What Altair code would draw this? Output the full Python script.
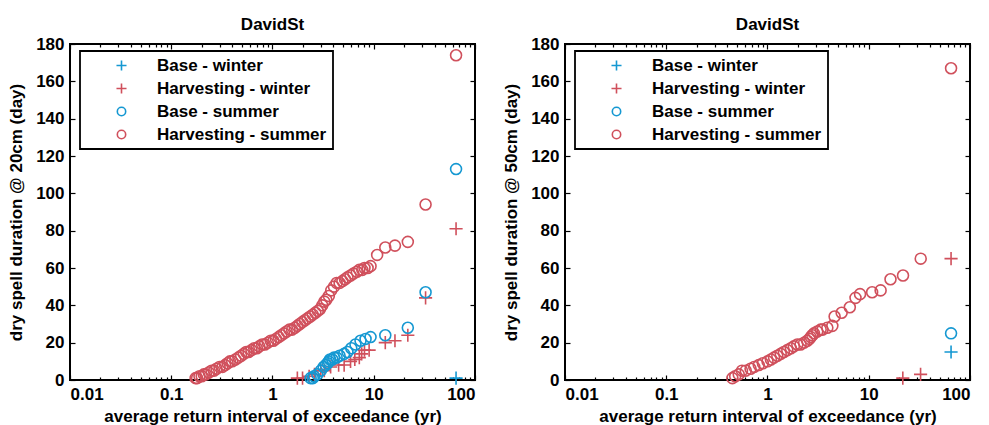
import altair as alt
import pandas as pd

FONT = "Liberation Sans"
BLUE = "#1598d2"
RED = "#d0505c"
PLUS = "M-1.2,0L1.2,0M0,-1.2L0,1.2"

SERIES = ["Base - winter", "Harvesting - winter", "Base - summer", "Harvesting - summer"]
TITLE = "DavidSt"
XTITLE = "average return interval of exceedance (yr)"
YTITLE_20 = "dry spell duration @ 20cm (day)"
YTITLE_50 = "dry spell duration @ 50cm (day)"

MAJOR_X = [0.01, 0.1, 1, 10, 100]
MINOR_X = [0.02, 0.03, 0.04, 0.05, 0.06, 0.07, 0.08, 0.09,
           0.2, 0.3, 0.4, 0.5, 0.6, 0.7, 0.8, 0.9,
           2, 3, 4, 5, 6, 7, 8, 9,
           20, 30, 40, 50, 60, 70, 80, 90]
Y_TICKS = [0, 20, 40, 60, 80, 100, 120, 140, 160, 180]

# ---------------- 20 cm panel ----------------
d20_bw_x = [65]
d20_bw_y = [1]

d20_hw_x = [1.76, 1.98, 2.3, 2.6, 3.0, 3.25, 3.75, 4.5, 5.1, 5.9, 6.5, 7.2, 7.6, 8.1, 9.0,
            13.0, 16.2, 21.7, 32.5, 65]
d20_hw_y = [1, 1, 2, 3, 5, 5, 7, 8, 8, 10, 11, 12, 14, 16, 16,
            20, 21, 24, 44, 81]

d20_bs_x = [2.38, 2.5, 2.57, 2.77, 3.0, 3.2, 3.35, 3.5, 3.6, 3.7, 3.9, 4.05, 4.3, 4.6, 5.1,
            5.5, 6.0, 6.6, 7.4, 8.3, 9.3, 13.0, 21.7, 32.5, 65]
d20_bs_y = [1, 1, 2, 3, 5, 7, 8, 9, 10, 11, 11, 12, 12, 13, 14,
            15, 17, 19, 21, 22, 23, 24, 28, 47, 113]

d20_hs_x = [0.174, 0.18, 0.19, 0.20, 0.21, 0.22, 0.235, 0.25, 0.265, 0.28, 0.30, 0.32, 0.34,
            0.36, 0.38, 0.40, 0.43, 0.46, 0.49, 0.52, 0.55, 0.58, 0.62, 0.66, 0.70, 0.74,
            0.79, 0.84, 0.90, 0.96, 1.02, 1.08, 1.15, 1.22, 1.30, 1.38, 1.47, 1.56, 1.66,
            1.76, 1.86, 1.97, 2.09, 2.22, 2.36, 2.5, 2.65, 2.8, 2.95, 3.1, 3.25, 3.4, 3.6,
            3.8, 4.05, 4.3, 4.6, 4.9, 5.2, 5.5, 5.9, 6.3, 6.8, 7.2, 7.7, 8.1, 8.7, 9.3,
            10.8, 13.0, 16.2, 21.7, 32.5, 65]
d20_hs_y = [1, 1, 2, 2, 3, 3, 4, 5, 5, 6, 7, 7, 8,
            9, 10, 10, 11, 12, 13, 14, 15, 15, 16, 17, 17, 18,
            19, 19, 20, 21, 21, 22, 23, 24, 25, 26, 27, 27, 28,
            29, 30, 31, 32, 33, 34, 35, 36, 37, 38, 40, 42, 43, 45,
            48, 50, 52, 52, 53, 54, 55, 56, 57, 58, 59, 59, 60, 60, 61,
            67, 71, 72, 74, 94, 174]

# ---------------- 50 cm panel ----------------
d50_bw_x = [65]
d50_bw_y = [15]

d50_hw_x = [21.7, 32.5, 65]
d50_hw_y = [1, 3, 65]

d50_bs_x = [65]
d50_bs_y = [25]

d50_hs_x = [0.45, 0.48, 0.52, 0.56, 0.61, 0.68, 0.74, 0.82, 0.9, 1.0, 1.08, 1.16, 1.25, 1.35,
            1.45, 1.57, 1.7, 1.82, 1.97, 2.12, 2.3, 2.47, 2.6, 2.67, 2.77, 2.88, 3.1, 3.35,
            3.5, 3.9, 4.37, 4.6, 5.4, 6.5, 7.4, 8.2, 10.8, 13.1, 16.4, 21.8, 32.6, 65]
d50_hs_y = [1, 2, 3, 5, 5, 6, 7, 8, 9, 10, 11, 12, 13, 14,
            15, 16, 17, 18, 19, 19, 20, 21, 22, 23, 24, 25, 26, 27,
            27, 28, 29, 34, 36, 39, 44, 46, 47, 48, 54, 56, 65, 167]


def build(groups):
    rows = []
    k = 0
    for name, xs, ys in groups:
        for xv, yv in zip(xs, ys):
            rows.append({"series": name, "interval": xv, "days": yv, "k": k})
            k += 1
    return pd.DataFrame(rows)


df20 = build([(SERIES[0], d20_bw_x, d20_bw_y), (SERIES[1], d20_hw_x, d20_hw_y),
              (SERIES[2], d20_bs_x, d20_bs_y), (SERIES[3], d20_hs_x, d20_hs_y)])
df50 = build([(SERIES[0], d50_bw_x, d50_bw_y), (SERIES[1], d50_hw_x, d50_hw_y),
              (SERIES[2], d50_bs_x, d50_bs_y), (SERIES[3], d50_hs_x, d50_hs_y)])


def panel(df, ytitle):
    xs = alt.Scale(type="log", domain=[0.01, 100], nice=False)
    ys = alt.Scale(domain=[0, 180], nice=False)
    legend = alt.Legend(title=None, orient="none", legendX=10, legendY=7,
                        strokeColor="black", fillColor="white",
                        padding=6, labelFont=FONT, labelFontSize=17, labelFontWeight="bold",
                        labelColor="black", labelLimit=400, symbolOffset=27, labelOffset=27,
                        rowPadding=5, symbolSize=70, symbolStrokeWidth=1.6)
    base = alt.Chart(df)
    pts = base.mark_point(filled=False, size=120, strokeWidth=1.6, opacity=1).encode(
        x=alt.X("interval:Q", scale=xs,
                axis=alt.Axis(orient="bottom", values=MAJOR_X, format="~g", title=XTITLE,
                              tickSize=5, offset=-5, domain=False, labelPadding=6,
                              titlePadding=6)),
        y=alt.Y("days:Q", scale=ys,
                axis=alt.Axis(orient="left", values=Y_TICKS, title=ytitle, tickSize=5,
                              offset=-5, domain=False, labelPadding=6, titlePadding=10)),
        color=alt.Color("series:N", scale=alt.Scale(domain=SERIES, range=[BLUE, RED, BLUE, RED]),
                        legend=legend),
        shape=alt.Shape("series:N", scale=alt.Scale(domain=SERIES, range=[PLUS, PLUS, "circle", "circle"]),
                        legend=legend),
        order=alt.Order("k:Q"),
    )
    ghost = base.mark_point(opacity=0)
    l2 = ghost.encode(
        x=alt.X("interval:Q", scale=xs,
                axis=alt.Axis(orient="bottom", values=MINOR_X, labels=False, title=None,
                              tickSize=3, offset=-3, domain=False)),
        y=alt.Y("days:Q", scale=ys,
                axis=alt.Axis(orient="right", values=Y_TICKS, labels=False, title=None,
                              tickSize=5, offset=-5, domain=False)),
    )
    l3 = ghost.encode(
        x=alt.X("interval:Q", scale=xs,
                axis=alt.Axis(orient="top", values=MAJOR_X, labels=False, title=None,
                              tickSize=5, offset=-5, domain=False)),
        y=alt.Y("days:Q", scale=ys, axis=None),
    )
    l4 = ghost.encode(
        x=alt.X("interval:Q", scale=xs,
                axis=alt.Axis(orient="top", values=MINOR_X, labels=False, title=None,
                              tickSize=3, offset=-3, domain=False)),
        y=alt.Y("days:Q", scale=ys, axis=None),
    )
    return alt.layer(pts, l2, l3, l4).resolve_axis(x="independent", y="independent").properties(
        width=405, height=336,
        title=alt.TitleParams(TITLE, font=FONT, fontSize=17, fontWeight="bold", color="black",
                              offset=1, anchor="middle"),
    )


chart = alt.hconcat(panel(df20, YTITLE_20), panel(df50, YTITLE_50), spacing=24).resolve_scale(
    color="independent", shape="independent"
).resolve_legend(color="independent", shape="independent").properties(
    padding={"left": 6, "top": 15, "right": 5, "bottom": 0},
    background="white",
).configure_view(stroke="black", strokeWidth=2).configure_axis(
    labelFont=FONT, labelFontSize=17, labelFontWeight="bold", labelColor="black",
    titleFont=FONT, titleFontSize=17, titleFontWeight="bold", titleColor="black",
    tickColor="black", tickWidth=1.2, grid=False,
).configure_legend(strokeWidth=1.8)

chart.save("out.html", embed_options={"renderer": "svg", "actions": False})
